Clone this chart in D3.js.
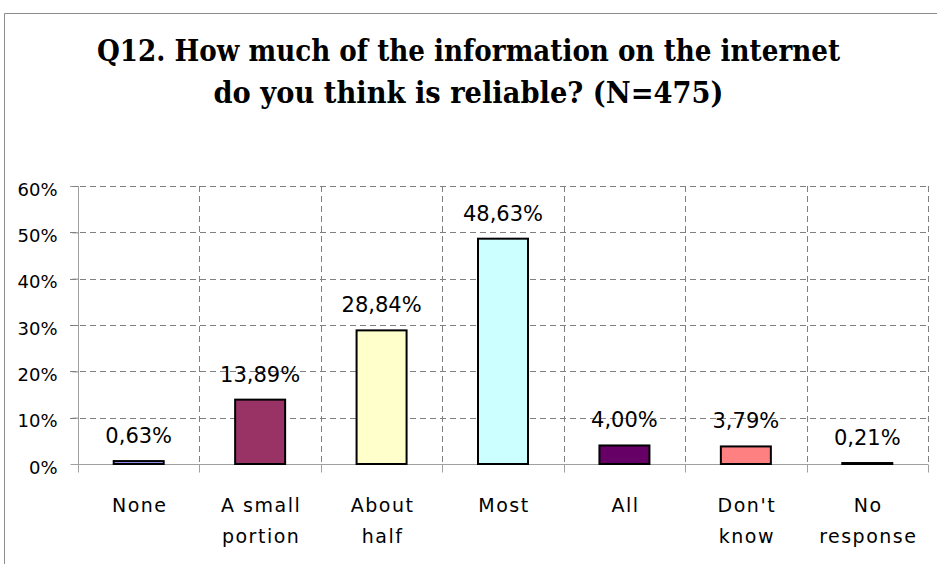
<!DOCTYPE html>
<html><head><meta charset="utf-8">
<script src="https://cdn.jsdelivr.net/npm/d3@7"></script>
<style>body{margin:0;background:#fff}svg{display:block}</style>
</head><body><svg id="c" width="937" height="564"></svg>
<script>
const titleLines = ["Q12. How much of the information on the internet", "do you think is reliable? (N=475)"];
const categories = ["None", "A small portion", "About half", "Most", "All", "Don't know", "No response"];
const catLines = [["None"], ["A small", "portion"], ["About", "half"], ["Most"], ["All"], ["Don't", "know"], ["No", "response"]];
const values = [0.63, 13.89, 28.84, 48.63, 4.00, 3.79, 0.21];
const colors = ["#9999FF", "#993366", "#FFFFCC", "#CCFFFF", "#660066", "#FF8080", "#0066CC"];
const yTicks = [0, 10, 20, 30, 40, 50, 60];

const svg = d3.select("#c");
const m = {left: 78, right: 928, top: 186, bottom: 464};

// chart border
svg.append("path").attr("d", "M4.5,564 V13.5 H937").attr("fill", "none").attr("stroke", "#8c8c8c").attr("stroke-width", 1);

// title
const titleW = [743, 510];
titleLines.forEach((t, i) => {
  svg.append("text").attr("x", 468.5).attr("y", 61 + i * 42)
    .attr("text-anchor", "middle")
    .attr("font-family", "'DejaVu Serif', serif").attr("font-weight", "bold").attr("font-size", 29)
    .attr("textLength", titleW[i]).attr("lengthAdjust", "spacingAndGlyphs")
    .attr("fill", "#000").text(t);
});

const x = d3.scaleBand().domain(categories).range([m.left, m.right]).paddingInner(0).paddingOuter(0);
const y = d3.scaleLinear().domain([0, 60]).range([m.bottom, m.top]);

// horizontal gridlines
svg.append("g").selectAll("line").data(yTicks.filter(d => d > 0)).join("line")
  .attr("x1", m.left - 8).attr("x2", m.right)
  .attr("y1", d => Math.round(y(d)) + 0.5).attr("y2", d => Math.round(y(d)) + 0.5)
  .attr("stroke", "#808080").attr("stroke-dasharray", "6,4");

// vertical gridlines at category boundaries
const bounds = categories.map(c => x(c)).concat([m.right]).slice(1);
svg.append("g").selectAll("line").data(bounds).join("line")
  .attr("x1", d => Math.round(d) + 0.5).attr("x2", d => Math.round(d) + 0.5)
  .attr("y1", m.top).attr("y2", m.bottom)
  .attr("stroke", "#808080").attr("stroke-dasharray", "6,4");

// y axis
const yAxis = d3.axisLeft(y).tickValues(yTicks).tickFormat(d => d + "%").tickSize(8).tickPadding(6);
const gy = svg.append("g").attr("transform", `translate(${m.left + 0.5},0)`).call(yAxis);
gy.select(".domain").attr("stroke", "#a0a0a0").attr("d", `M-8,${m.top + 0.5}H0V${m.bottom + 0.5}`);
gy.selectAll(".tick line").attr("stroke", "#a0a0a0");
gy.selectAll(".tick text").attr("font-family", "'DejaVu Sans', sans-serif").attr("font-size", 18)
  .attr("fill", "#000").attr("x", -21).attr("dy", "0.5em");
gy.selectAll(".tick").filter(d => d > 0).select("line").attr("stroke", "#808080").attr("stroke-dasharray", "6,4");

// x axis
const gx = svg.append("g").attr("transform", `translate(0,${m.bottom + 0.5})`);
gx.append("line").attr("x1", m.left).attr("x2", m.right).attr("stroke", "#a0a0a0");
gx.selectAll(".tk").data([m.left].concat(bounds)).join("line").attr("class", "tk")
  .attr("x1", d => Math.round(d) + 0.5).attr("x2", d => Math.round(d) + 0.5)
  .attr("y1", 0).attr("y2", 8).attr("stroke", "#a0a0a0");

// category labels
const lab = svg.append("g").selectAll("text").data(categories).join("text")
  .attr("text-anchor", "middle")
  .attr("font-family", "'DejaVu Sans', sans-serif").attr("font-size", 19)
  .attr("letter-spacing", 1.5).attr("fill", "#000");
lab.each(function(c, i) {
  const cx = x(c) + x.bandwidth() / 2 + 1;
  catLines[i].forEach((l, j) => {
    d3.select(this).append("tspan").attr("x", cx).attr("y", 512 + j * 31).text(l);
  });
});

// bars
const bw = 50;
svg.append("g").selectAll("rect").data(values).join("rect")
  .attr("x", (d, i) => x(categories[i]) + x.bandwidth() / 2 - bw / 2)
  .attr("y", d => y(d))
  .attr("width", bw)
  .attr("height", d => y(0) - y(d))
  .attr("fill", (d, i) => colors[i])
  .attr("stroke", "#000").attr("stroke-width", 2);

// data labels
svg.append("g").selectAll("text").data(values).join("text")
  .attr("x", (d, i) => x(categories[i]) + x.bandwidth() / 2)
  .attr("y", d => y(d) - 18)
  .attr("text-anchor", "middle")
  .attr("font-family", "'DejaVu Sans', sans-serif").attr("font-size", 21).attr("fill", "#000")
  .text(d => d.toFixed(2).replace(".", ",") + "%");
</script></body></html>
